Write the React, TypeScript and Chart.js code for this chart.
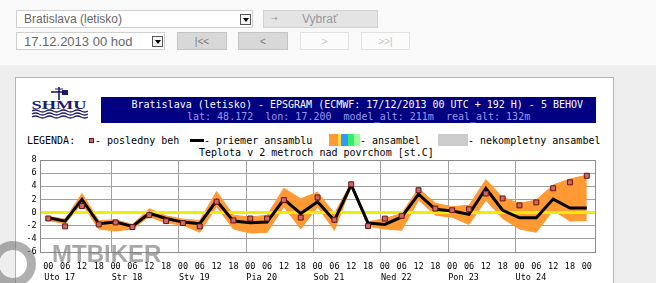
import React, { useEffect, useRef } from 'react';
import { Chart, registerables } from 'chart.js';

Chart.register(...registerables);

// ---- data ----
const TIME_H = [0, 6, 12, 18, 24, 30, 36, 42, 48, 54, 60, 66, 72, 78, 84, 90, 96, 102, 108, 114, 120, 126, 132, 138, 144, 150, 156, 162, 168, 174, 180, 186, 192];
const HOUR_LABELS = ['00', '06', '12', '18'];
const DAY_LABELS = ['Uto 17', 'Str 18', 'Stv 19', 'Pia 20', 'Sob 21', 'Ned 22', 'Pon 23', 'Uto 24'];
const DAY_TICK_H = [-1.4, 22.6, 46.6, 70.6, 94.6, 118.6, 142.6, 166.6];
const ENS_MEAN = [-0.8, -1.3, 2.0, -1.7, -1.45, -2.1, -0.1, -0.9, -1.45, -1.7, 1.8, -1.3, -1.55, -1.45, 2.05, -0.15, 1.65, -1.2, 4.2, -1.6, -1.8, -0.67, 2.8, 0.5, 0.25, -0.25, 3.7, 0.35, -0.8, -0.8, 2.05, 0.7, 0.7];
const LAST_RUN = [-0.9, -2.1, 1.0, -1.8, -1.5, -2.2, -0.4, -1.3, -1.6, -2.1, 1.65, -1.2, -0.9, -0.9, 1.9, -0.77, 2.3, -1.1, 4.3, -2.05, -0.92, -0.5, 3.4, 0.6, 0.35, 0.5, 2.9, 2.15, 1.1, 1.55, 3.7, 4.6, 5.6];
const ENS_MAX = [-0.6, -1.0, 2.9, -1.2, -1.1, -1.8, 0.6, -0.5, -1.0, -1.2, 3.2, -0.4, -0.7, -0.4, 3.7, 2.1, 3.1, -0.15, 4.5, -1.4, -0.9, -0.15, 3.7, 1.4, 0.9, 1.1, 5.0, 2.3, 1.4, 1.9, 4.2, 5.1, 5.7];
const ENS_MIN = [-1.2, -1.7, 1.4, -2.5, -2.8, -2.5, -0.6, -1.6, -1.9, -3.0, 0.9, -2.5, -3.1, -3.0, 0.9, -2.5, 0.9, -2.7, 4.0, -2.1, -2.5, -2.7, 1.9, -0.4, -0.7, -1.8, 1.9, -0.9, -2.5, -3.0, 0.35, -1.3, -1.2];
const Y_MIN = -6;
const Y_MAX = 8;
const Y_STEP = 2;
const X_MIN = -2.78;
const X_MAX = 195.1;

const MONO = 'DejaVu Sans Mono';

const abs = (l: number, t: number, extra: React.CSSProperties = {}): React.CSSProperties => ({
  position: 'absolute', left: l, top: t, ...extra,
});

const monoText = (l: number, t: number, color = '#000'): React.CSSProperties =>
  abs(l, t, { fontFamily: MONO, fontSize: 10, lineHeight: '10px', whiteSpace: 'pre', color });

function DropArrow({ l, t }: { l: number; t: number }) {
  return (
    <div style={abs(l, t, { width: 11, height: 11, boxSizing: 'border-box', border: '1px solid #555', background: '#f4f4f4', display: 'flex', alignItems: 'center', justifyContent: 'center' })}>
      <div style={{ width: 0, height: 0, borderLeft: '3px solid transparent', borderRight: '3px solid transparent', borderTop: '4px solid #000' }} />
    </div>
  );
}

function Btn({ l, t, w, label, on }: { l: number; t: number; w: number; label: string; on: boolean }) {
  return (
    <div style={abs(l, t, {
      width: w, height: 18, boxSizing: 'border-box',
      border: on ? '1px solid #c4c4c4' : '1px solid #e2e2e2',
      background: on ? '#d8d8d8' : '#fbfbfb',
      color: on ? '#777' : '#c4c4c4',
      fontFamily: 'Liberation Sans', fontSize: 10, display: 'flex', alignItems: 'center', justifyContent: 'center',
      whiteSpace: 'pre',
    })}>{label}</div>
  );
}

export default function App() {
  const ref = useRef<HTMLCanvasElement>(null);

  useEffect(() => {
    if (!ref.current) return;
    const font = { family: MONO, size: 8.5 };
    const pts = (arr: number[]) => arr.map((v, i) => ({ x: TIME_H[i], y: v }));
    const frame = {
      id: 'frame',
      beforeDatasetsDraw(c: any) {
        const { left, top, right, bottom } = c.chartArea;
        const ctx = c.ctx;
        ctx.save();
        ctx.strokeStyle = '#8c8c8c';
        ctx.lineWidth = 1;
        const l = Math.round(left - 0.5) + 0.5;
        const r = Math.round(right - 0.5) + 0.5;
        const t = Math.round(top - 0.5) + 0.5;
        const b = Math.round(bottom - 0.5) + 0.5;
        ctx.strokeRect(l, t, r - l, b - t);
        ctx.restore();
      },
    };
    const chart = new Chart(ref.current, {
      type: 'line',
      data: {
        datasets: [
          { data: pts(ENS_MIN), borderColor: '#ff9933', borderWidth: 1, pointRadius: 0, fill: false, order: 4 },
          { data: pts(ENS_MAX), borderColor: '#ff9933', borderWidth: 1, pointRadius: 0, fill: '-1', backgroundColor: '#ff9933', order: 3 },
          { data: [{ x: X_MIN, y: 0 }, { x: X_MAX, y: 0 }], borderColor: '#eeee00', borderWidth: 3, pointRadius: 0, fill: false, order: 2 },
          { data: pts(ENS_MEAN), borderColor: '#000', borderWidth: 3, pointRadius: 0, fill: false, order: 1 },
          {
            data: pts(LAST_RUN), showLine: false, pointStyle: 'rect', pointRadius: 3.5,
            pointBackgroundColor: '#c86a6a', pointBorderColor: '#6b1010', pointBorderWidth: 1, order: 0,
          },
        ] as any,
      },
      options: {
        animation: false,
        responsive: false,
        devicePixelRatio: 1,
        events: [],
        layout: { padding: { top: 10, right: 24.5, left: 0, bottom: 0 } },
        plugins: { legend: { display: false }, tooltip: { enabled: false } },
        scales: {
          x: {
            type: 'linear', position: 'bottom', min: X_MIN, max: X_MAX,
            afterBuildTicks: (s: any) => { s.ticks = TIME_H.map((v) => ({ value: v })); },
            ticks: {
              callback: (v: any) => HOUR_LABELS[Math.round(Number(v) / 6) % 4],
              font, color: '#000', padding: 10, autoSkip: false, maxRotation: 0,
            },
            grid: { display: false, drawTicks: false },
            border: { display: false },
            afterFit: (s: any) => { s.height = 20; },
          },
          xd: {
            type: 'linear', position: 'bottom', min: X_MIN, max: X_MAX,
            afterBuildTicks: (s: any) => { s.ticks = DAY_TICK_H.map((v) => ({ value: v })); },
            ticks: {
              callback: (_v: any, i: number) => DAY_LABELS[i],
              font, color: '#000', padding: 1, autoSkip: false, maxRotation: 0, align: 'start',
            },
            grid: { color: (ctx: any) => (ctx.index === 0 ? 'rgba(0,0,0,0)' : '#a0a0a0'), drawTicks: false },
            border: { display: false },
            afterFit: (s: any) => { s.height = 11; },
          },
          y: {
            type: 'linear', min: Y_MIN, max: Y_MAX,
            ticks: { stepSize: Y_STEP, font, color: '#000', padding: 4, autoSkip: false },
            grid: { color: '#a0a0a0', drawTicks: false },
            border: { display: false },
            afterFit: (s: any) => { s.width = 40.5; },
          },
        } as any,
      },
      plugins: [frame],
    });
    return () => chart.destroy();
  }, []);

  return (
    <div style={{ position: 'absolute', left: 0, top: 0, width: 656, height: 283, overflow: 'hidden', background: '#eeeeee' }}>
      {/* top form area */}
      <div style={abs(0, 0, { width: 656, height: 65, background: '#f9f9f9' })} />
      <div style={abs(16, 10, { width: 237, height: 18, boxSizing: 'border-box', border: '1px solid #cfcfcf', background: '#fff', fontFamily: 'Liberation Sans', fontSize: 12, color: '#666', display: 'flex', alignItems: 'center', paddingLeft: 7 })}>Bratislava (letisko)</div>
      <DropArrow l={240} t={14} />
      <div style={abs(263, 10, { width: 115, height: 18, boxSizing: 'border-box', border: '1px solid #d2d2d2', background: '#e4e4e4' })} />
      <div style={abs(271, 12, { fontFamily: 'DejaVu Sans', fontSize: 8, lineHeight: '14px', color: '#999' })}>→</div>
      <div style={abs(302, 11, { fontFamily: 'Liberation Sans', fontSize: 12, lineHeight: '16px', color: '#999' })}>Vybrať</div>
      <div style={abs(16, 32, { width: 149, height: 18, boxSizing: 'border-box', border: '1px solid #cfcfcf', background: '#fff', fontFamily: 'Liberation Sans', fontSize: 13, color: '#666', display: 'flex', alignItems: 'center', paddingLeft: 7 })}>17.12.2013 00 hod</div>
      <DropArrow l={152} t={36} />
      <Btn l={177} t={32} w={50} label="|<<" on={true} />
      <Btn l={238} t={32} w={50} label="<" on={true} />
      <Btn l={300} t={32} w={49} label=">" on={false} />
      <Btn l={361} t={32} w={49} label=">>|" on={false} />

      {/* panel */}
      <div style={abs(15, 77, { width: 599, height: 230, boxSizing: 'border-box', border: '1px solid #b4b4b4', background: '#fff' })} />

      {/* logo */}
      <svg style={abs(31, 85)} width={57} height={34} viewBox="0 0 57 34">
        <line x1={28} y1={2} x2={28} y2={15} stroke="#1c1c6e" strokeWidth={1.6} />
        <line x1={20} y1={7} x2={36} y2={7} stroke="#1c1c6e" strokeWidth={1.6} />
        <line x1={24} y1={4} x2={32} y2={4} stroke="#1c1c6e" strokeWidth={1} />
        <rect x={31} y={5} width={6} height={5} fill="#1c1c6e" />
        <text x={28} y={24} textAnchor="middle" fontFamily="Liberation Serif" fontWeight="bold" fontSize={13} fill="#1c1c6e" textLength={55} lengthAdjust="spacingAndGlyphs">SHMU</text>
        <path d="M1 26 q3.5 -2 7 0 t7 0 t7 0 t7 0 t7 0 t7 0 t7 0 t7 0" stroke="#1c1c6e" strokeWidth={1.3} fill="none" />
        <path d="M1 29 q3.5 -2 7 0 t7 0 t7 0 t7 0 t7 0 t7 0 t7 0 t7 0" stroke="#1c1c6e" strokeWidth={1.3} fill="none" />
        <path d="M1 32 q3.5 -2 7 0 t7 0 t7 0 t7 0 t7 0 t7 0 t7 0 t7 0" stroke="#1c1c6e" strokeWidth={1.3} fill="none" />
      </svg>

      {/* banner */}
      <div style={abs(101, 97, { width: 495, height: 26, background: '#000080' })} />
      <div style={monoText(131.5, 99.5, '#ffffff')}>Bratislava (letisko) - EPSGRAM (ECMWF: 17/12/2013 00 UTC + 192 H) - 5 BEHOV</div>
      <div style={monoText(187, 112.2, '#9a9aee')}>lat: 48.172  lon: 17.200  model_alt: 211m  real_alt: 132m</div>

      {/* legend */}
      <div style={monoText(27, 135.5)}>LEGENDA:</div>
      <div style={abs(89, 137.5, { width: 5, height: 5, boxSizing: 'border-box', border: '1px solid #6b1010', background: '#c86a6a' })} />
      <div style={monoText(95, 135.5)}>- posledny beh</div>
      <div style={abs(190, 139, { width: 14, height: 3, background: '#000' })} />
      <div style={monoText(204, 135.5)}>- priemer ansamblu</div>
      <div style={abs(329, 134, { width: 31, height: 12, background: 'linear-gradient(to right, #ff9933 0%, #ff9933 30%, #ffdd44 30%, #ffdd44 40%, #3399ff 40%, #3399ff 60%, #33ee66 60%, #33ee66 80%, #99ff99 80%, #99ff99 100%)' })} />
      <div style={monoText(360, 135.5)}>- ansambel</div>
      <div style={abs(438, 134, { width: 30, height: 12, background: '#cccccc' })} />
      <div style={monoText(468, 135.5)}>- nekompletny ansambel</div>
      <div style={monoText(199, 148)}>Teplota v 2 metroch nad povrchom [st.C]</div>

      {/* chart */}
      <canvas ref={ref} width={620} height={133} style={abs(0, 150, { width: 620, height: 133 })} />

      {/* watermark */}
      <div style={abs(-10, 241, { width: 46, height: 46, boxSizing: 'border-box', borderRadius: '50%', border: '9px solid rgba(110,110,110,0.55)' })} />
      <div style={abs(52, 242, { fontFamily: 'Liberation Sans', fontWeight: 'bold', fontSize: 24, lineHeight: '24px', color: 'rgba(110,110,110,0.6)' })}>MTBIKER</div>
    </div>
  );
}
